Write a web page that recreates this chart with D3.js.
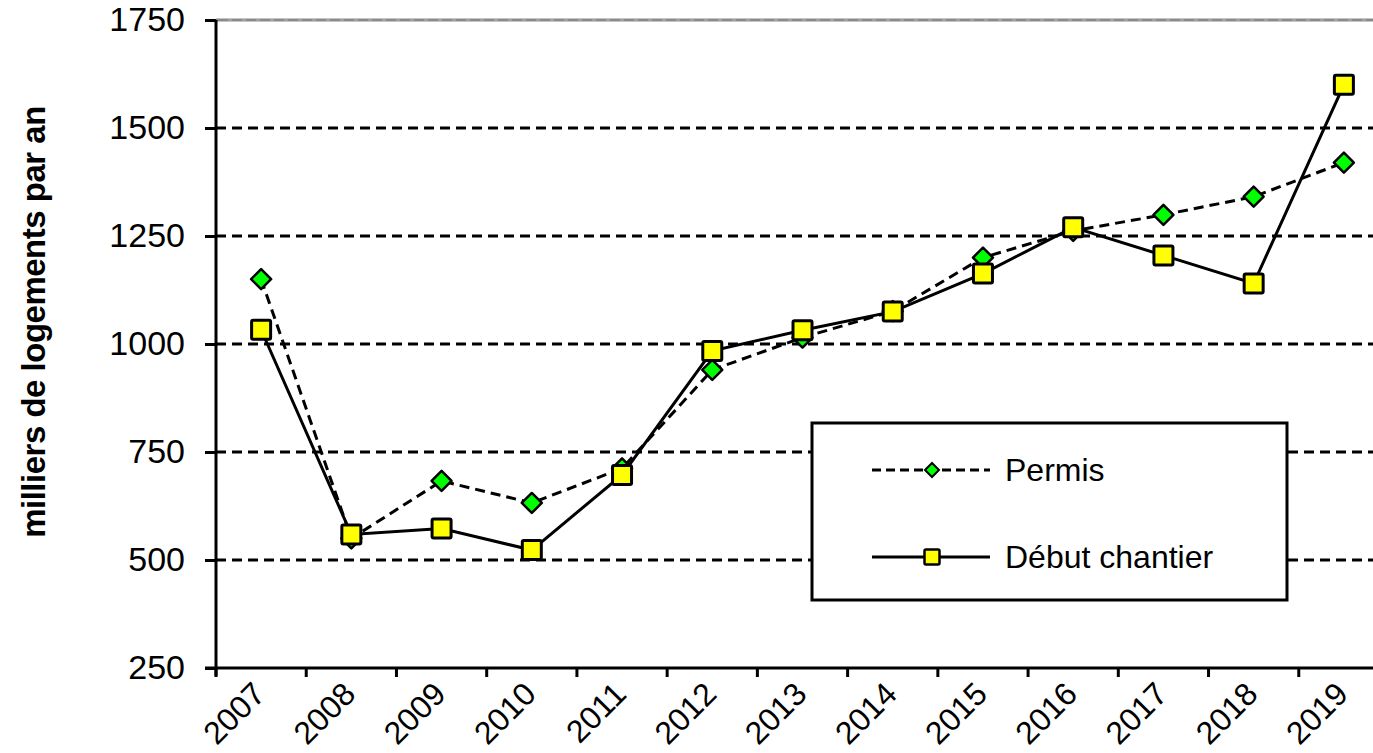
<!DOCTYPE html>
<html><head><meta charset="utf-8">
<script src="https://cdn.jsdelivr.net/npm/d3@7"></script>
<style>
html,body{margin:0;padding:0;background:#fff;}
svg{display:block;font-family:"Liberation Sans",Arial,sans-serif;}
</style></head>
<body><svg id="chart" width="1373" height="753"></svg>
<script>
const years = ["2007","2008","2009","2010","2011","2012","2013","2014","2015","2016","2017","2018","2019"];
const permis = [1150, 550, 683, 632, 712, 940, 1015, 1076, 1200, 1262, 1299, 1341, 1420];
const debutChantier = [1033, 559, 573, 523, 697, 984, 1032, 1075, 1163, 1270, 1205, 1140, 1600];
const yTicks = [250, 500, 750, 1000, 1250, 1500, 1750];
const seriesNames = ["Permis", "Début chantier"];
const yTitle = "milliers de logements par an";

(function () {
const svg = d3.select("#chart");
const pLeft = 216, pTop = 20, pBottom = 668, pRight = 1389;

const x = d3.scaleBand().domain(years).range([pLeft, pRight]).padding(0);
const y = d3.scaleLinear().domain([250, 1750]).range([pBottom, pTop]);

// gridlines
const grid = svg.append("g");
yTicks.filter(v => v > 250).forEach(v => {
  if (v === 1750) {
    grid.append("line").attr("x1", pLeft).attr("x2", 1373).attr("y1", y(v)).attr("y2", y(v))
      .attr("stroke", "#8a8a8a").attr("stroke-width", 3);
    grid.append("line").attr("x1", pLeft + 12).attr("x2", 1373).attr("y1", y(v)).attr("y2", y(v))
      .attr("stroke", "#b8b8b8").attr("stroke-width", 1).attr("stroke-dasharray", "4,10");
  } else {
    grid.append("line").attr("x1", pLeft).attr("x2", 1373).attr("y1", y(v)).attr("y2", y(v))
      .attr("stroke", "#000").attr("stroke-width", 3).attr("stroke-dasharray", "10,6");
  }
});

// y axis
const yAxis = d3.axisLeft(y).tickValues(yTicks).tickSize(11).tickPadding(20).tickFormat(d3.format("d"));
const gy = svg.append("g").attr("transform", `translate(${pLeft},0)`).call(yAxis);
gy.select(".domain").attr("stroke", "#000").attr("stroke-width", 3).attr("d", `M0,${pTop}V${pBottom + 8}`);
gy.selectAll(".tick line").attr("stroke", "#000").attr("stroke-width", 3);
gy.selectAll(".tick text").attr("font-size", 34).attr("fill", "#000")
  .attr("font-family", "'Liberation Sans',Arial,sans-serif");

// x axis
const tickPos = years.map((d) => x(d)).concat([pRight]);
svg.append("line").attr("x1", pLeft - 11).attr("x2", 1373).attr("y1", pBottom).attr("y2", pBottom)
  .attr("stroke", "#000").attr("stroke-width", 3);
svg.append("g").selectAll("line").data(tickPos.filter(p => p <= 1373)).join("line")
  .attr("x1", d => d).attr("x2", d => d).attr("y1", pBottom).attr("y2", pBottom + 9)
  .attr("stroke", "#000").attr("stroke-width", 3);
svg.append("g").selectAll("text").data(years).join("text")
  .attr("transform", d => `translate(${x(d) + x.bandwidth() / 2 + 6},${pBottom + 28}) rotate(-45)`)
  .attr("text-anchor", "end").attr("font-size", 32).attr("fill", "#000").text(d => d);

// y title
svg.append("text").attr("transform", `translate(45,${(98 + 546) / 2}) rotate(-90)`)
  .attr("text-anchor", "middle").attr("font-size", 33).attr("font-weight", "bold")
  .attr("letter-spacing", -0.5).attr("fill", "#000").text(yTitle);

// legend box
const lg = svg.append("g");
lg.append("rect").attr("x", 812).attr("y", 423).attr("width", 475).attr("height", 177)
  .attr("fill", "#fff").attr("stroke", "#000").attr("stroke-width", 3);

const cx = d => x(d) + x.bandwidth() / 2;
const line = d3.line().x((d, i) => cx(years[i])).y(d => y(d));

// Permis
svg.append("path").datum(permis).attr("d", line).attr("fill", "none")
  .attr("stroke", "#000").attr("stroke-width", 3).attr("stroke-dasharray", "10,6");
const diamond = (r) => `M0,${-r}L${r},0L0,${r}L${-r},0Z`;
svg.append("g").selectAll("path").data(permis).join("path")
  .attr("d", diamond(10)).attr("transform", (d, i) => `translate(${cx(years[i])},${y(d)})`)
  .attr("fill", "#00ff00").attr("stroke", "#000").attr("stroke-width", 2.5).attr("stroke-linejoin", "round");

// Début chantier
svg.append("path").datum(debutChantier).attr("d", line).attr("fill", "none")
  .attr("stroke", "#000").attr("stroke-width", 3);
svg.append("g").selectAll("rect").data(debutChantier).join("rect")
  .attr("x", (d, i) => cx(years[i]) - 9.5).attr("y", d => y(d) - 9.5)
  .attr("width", 19).attr("height", 19).attr("rx", 1.5)
  .attr("fill", "#ffff00").attr("stroke", "#000").attr("stroke-width", 3);

// legend entries
lg.append("line").attr("x1", 872).attr("x2", 990).attr("y1", 470).attr("y2", 470)
  .attr("stroke", "#000").attr("stroke-width", 3).attr("stroke-dasharray", "9,5");
lg.append("path").attr("d", diamond(7)).attr("transform", "translate(932,470)")
  .attr("fill", "#00ff00").attr("stroke", "#000").attr("stroke-width", 2);
lg.append("text").attr("x", 1005).attr("y", 481).attr("font-size", 32).attr("fill", "#000").text(seriesNames[0]);
lg.append("line").attr("x1", 872).attr("x2", 990).attr("y1", 557).attr("y2", 557)
  .attr("stroke", "#000").attr("stroke-width", 3);
lg.append("rect").attr("x", 924.5).attr("y", 549.5).attr("width", 15).attr("height", 15).attr("rx", 1.5)
  .attr("fill", "#ffff00").attr("stroke", "#000").attr("stroke-width", 2.5);
lg.append("text").attr("x", 1005).attr("y", 568).attr("font-size", 32).attr("fill", "#000").text(seriesNames[1]);
})();
</script></body></html>
